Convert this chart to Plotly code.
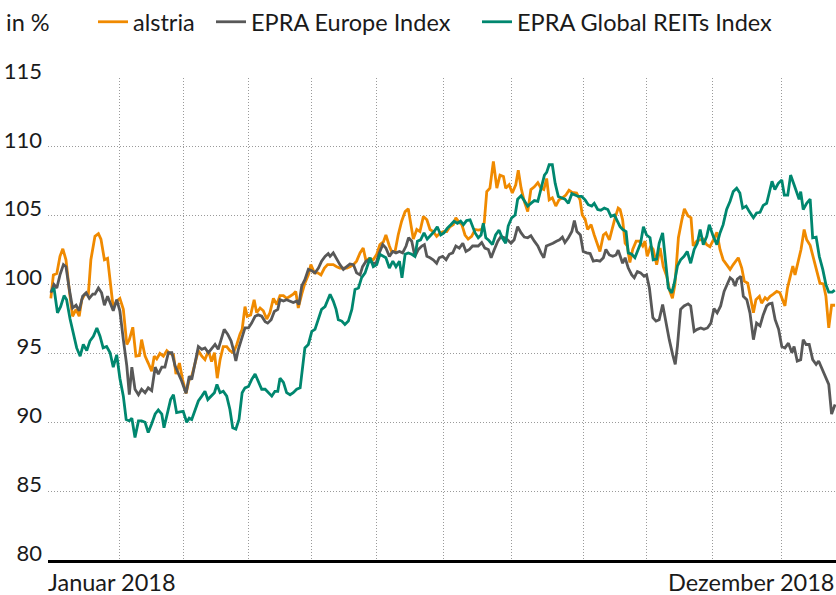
import plotly.graph_objects as go

# Trading-day index (0 = start of January 2018, 250 = end of December 2018)
alstria_day = [0.9,1.7,2.8,3.8,4.7,5.7,6.8,7.8,8.9,9.9,10.7,11.7,12.8,13.6,14.9,16.0,16.8,17.9,18.9,20.0,20.7,21.8,22.8,23.9,25.0,25.8,26.9,27.9,29.0,29.7,30.8,31.8,32.9,33.7,34.5,35.5,36.6,37.7,38.7,39.8,40.6,41.7,42.7,43.8,44.8,
               45.6,46.6,47.7,48.8,49.8,50.9,51.9,52.8,53.7,54.6,55.6,56.7,57.7,58.8,59.9,60.9,61.6,62.5,63.2,64.3,65.4,66.2,67.3,68.3,69.4,70.4,71.5,72.6,73.6,74.7,75.7,76.8,77.8,78.6,79.4,80.5,81.5,82.6,83.4,84.5,85.6,86.6,87.7,88.7,
               89.5,90.5,91.6,92.6,93.7,94.8,95.8,96.9,97.9,99.0,100.0,100.9,101.9,103.2,104.3,105.3,106.4,107.2,108.3,109.0,110.1,111.1,112.2,113.3,114.3,115.1,115.9,117.0,118.0,119.1,120.2,121.2,122.2,123.3,124.4,125.4,126.5,127.5,128.6,129.4,130.2,131.3,132.3,133.3,134.4,
               135.5,136.5,137.6,138.4,139.2,140.2,141.3,142.4,143.4,144.5,145.2,146.3,147.3,148.4,149.2,150.1,151.1,152.2,153.2,154.3,155.4,156.4,157.3,158.2,159.0,160.0,161.1,162.1,163.2,164.3,165.3,166.3,167.7,168.8,169.5,170.4,171.2,172.3,173.3,174.4,175.1,176.2,177.0,178.1,179.0,179.9,180.9,
               181.5,182.3,183.1,183.8,184.6,185.5,186.6,187.6,188.7,189.4,190.1,191.2,192.0,193.1,194.2,195.2,196.3,197.3,198.1,198.9,200.0,201.1,201.9,203.0,204.0,204.7,205.8,206.9,207.9,209.0,210.0,211.1,212.2,213.2,214.2,215.3,
               216.4,217.4,218.3,219.0,220.1,220.9,222.0,222.9,223.8,224.6,225.7,226.4,227.5,228.2,229.1,230.1,231.2,232.2,233.1,233.8,234.6,235.4,236.3,237.0,238.0,238.9,239.9,240.7,241.8,242.8,243.9,244.9,246.0,246.8,247.7,248.6,249.7]
alstria = [99.0,100.7,100.8,102.05,102.6,101.8,99.5,97.7,98.2,97.7,98.9,99.3,99.3,101.8,103.5,103.7,103.3,101.8,101.9,99.9,98.3,98.8,99.0,98.2,95.65,96.0,96.9,94.8,94.85,96.0,94.8,94.3,93.7,94.8,94.6,95.0,94.8,95.2,95.0,94.9,93.5,94.3,93.1,92.1,93.1,
           93.35,94.3,95.2,94.8,94.55,95.2,94.4,95.05,93.2,94.55,95.5,95.5,95.2,95.05,95.65,96.4,96.75,98.4,97.7,97.8,98.9,97.95,98.3,98.1,97.5,97.95,99.0,98.55,99.2,99.2,99.0,99.15,99.3,99.5,98.3,99.3,100.1,100.7,101.45,100.85,100.85,100.7,101.2,101.45,
           101.45,101.45,101.3,101.2,101.2,101.2,101.3,101.45,101.7,102.3,102.65,101.7,101.9,101.8,102.2,102.9,103.1,103.6,102.8,102.4,102.4,103.6,104.6,105.3,105.5,104.35,103.3,104.0,103.85,104.95,104.7,104.0,103.85,103.5,103.75,103.85,103.85,104.2,104.35,104.85,104.6,104.35,103.6,103.3,103.5,
           104.0,103.95,104.0,104.5,106.75,107.0,108.95,107.0,107.95,107.85,107.0,107.25,106.65,107.25,108.3,107.0,106.05,105.3,106.9,107.1,107.4,107.0,106.9,107.7,106.15,106.3,105.7,106.15,106.3,106.5,106.85,106.7,106.65,106.15,105.05,104.75,104.0,104.35,103.6,102.8,102.4,103.6,103.75,103.25,104.1,104.85,105.55,
           105.45,104.7,103.0,102.8,101.6,102.55,103.15,103.15,102.8,103.15,102.05,102.8,102.55,101.45,102.65,101.3,100.6,99.5,99.0,100.0,103.4,104.7,105.5,105.0,104.85,102.8,103.15,103.25,103.3,102.9,102.75,103.25,103.8,102.55,101.8,101.45,
           101.1,101.45,101.7,101.95,101.2,100.25,100.1,99.15,97.95,98.9,99.15,98.65,99.05,98.9,99.15,99.3,99.5,99.4,98.8,98.45,99.75,100.6,101.35,100.7,101.7,102.55,104.0,103.25,102.85,101.95,100.95,100.1,100.05,99.15,96.85,98.5,98.5]

europe_day = [0.9,1.9,2.8,3.8,4.9,5.7,6.8,7.8,8.9,9.9,11.0,12.1,13.1,14.2,14.9,16.0,17.0,17.9,18.9,20.0,20.7,21.8,22.8,23.9,25.0,25.8,26.6,27.6,28.7,29.7,30.8,31.8,32.9,34.0,35.0,36.1,37.1,38.2,39.3,40.3,41.3,42.4,43.8,44.8,
              45.6,46.6,47.7,48.8,49.8,50.9,51.9,53.0,54.0,54.9,55.9,57.0,58.1,58.9,59.6,60.4,61.5,62.5,63.6,64.6,65.7,66.7,67.8,68.9,69.7,70.8,71.8,72.9,73.6,74.7,75.7,76.8,77.8,78.9,79.6,80.5,81.5,82.6,83.7,84.7,85.8,86.8,87.9,88.9,
              89.5,90.5,91.6,92.6,93.7,94.8,95.8,96.9,97.9,99.0,99.8,100.9,101.9,103.0,104.1,105.1,106.2,107.2,108.3,109.4,110.4,111.5,112.5,113.6,114.4,115.4,116.4,117.5,118.6,119.4,120.2,121.2,122.2,123.3,124.1,125.2,126.3,127.3,128.4,129.4,130.5,131.6,132.6,133.7,134.7,
              135.5,136.5,137.6,138.6,139.7,140.6,141.6,142.7,143.7,144.8,145.8,146.9,147.9,149.0,150.1,151.1,152.2,153.2,154.3,155.4,156.4,157.3,158.1,159.2,160.2,161.3,162.3,163.2,164.0,165.1,166.2,167.0,167.8,168.9,169.8,170.9,172.0,173.0,174.1,175.1,176.2,177.0,178.1,179.2,180.2,180.9,
              181.5,182.3,183.1,184.1,185.2,186.0,187.0,188.0,189.1,189.9,190.8,191.9,192.9,193.9,195.0,196.1,197.1,198.2,199.0,199.7,200.7,201.8,203.1,203.9,205.0,206.0,207.1,208.1,209.2,210.3,211.3,212.3,213.4,214.5,215.5,
              216.4,217.2,218.0,218.7,219.8,220.6,221.7,222.7,223.8,224.8,225.9,226.9,228.0,228.8,229.7,230.7,231.8,232.8,233.8,234.9,236.0,236.7,237.7,238.8,239.6,240.5,241.5,242.6,243.7,244.5,245.6,246.6,247.7,248.6,249.7]
europe = [99.4,100.0,99.75,100.7,101.45,101.3,99.6,98.3,98.5,98.1,99.15,99.4,99.0,99.3,99.3,99.75,99.4,98.5,99.15,98.55,98.1,98.9,98.1,96.0,94.1,92.0,94.0,92.4,92.0,92.4,92.15,92.5,92.3,94.0,93.5,94.0,94.0,95.05,95.05,94.1,93.6,93.0,92.1,93.35,
          93.1,94.3,95.5,95.3,95.4,95.05,95.3,95.65,95.3,96.0,96.75,96.4,95.9,95.2,94.45,95.3,96.1,96.85,96.85,97.2,97.7,97.8,97.7,97.3,97.2,97.45,98.05,98.2,98.9,98.8,98.9,98.8,98.7,98.8,98.55,99.9,100.35,101.1,101.0,100.85,101.2,101.7,102.05,102.25,
          102.05,102.3,101.8,101.45,101.1,101.3,101.5,101.45,100.85,100.7,101.3,101.7,101.8,101.55,101.55,102.3,102.9,102.65,102.05,102.4,102.3,102.4,102.3,102.8,103.4,103.15,102.05,102.55,102.8,102.9,102.05,101.95,101.8,101.55,101.95,102.05,101.8,102.2,102.3,102.8,102.65,103.0,102.4,102.55,102.8,
          102.8,102.8,103.05,102.65,102.55,101.95,102.55,103.15,103.5,103.4,103.25,103.0,103.25,104.2,103.75,103.45,103.4,103.55,103.15,102.8,102.3,101.95,102.8,102.9,103.0,103.15,103.25,103.45,103.05,103.4,103.85,104.65,103.85,103.6,102.4,102.3,102.25,101.7,101.75,101.7,101.95,102.55,102.15,102.05,102.15,102.5,
          102.05,101.55,101.95,101.2,100.7,100.5,100.95,100.85,100.6,100.7,99.75,97.6,97.35,97.45,98.55,97.1,96.0,94.9,94.2,95.55,98.2,98.45,98.6,98.45,96.6,96.75,96.85,96.75,96.85,97.2,98.25,97.95,98.45,99.5,100.0,
          100.5,100.35,99.9,100.4,100.6,99.15,98.9,97.95,96.0,97.2,97.0,97.8,98.45,98.6,98.65,97.45,96.75,95.5,95.4,95.75,95.05,95.5,94.45,94.55,96.0,95.65,95.65,94.55,94.2,94.45,93.85,93.35,92.75,90.6,91.3]

global_day = [1.2,1.9,3.0,4.0,5.1,5.9,7.0,8.0,9.1,10.2,11.2,12.3,13.3,14.4,15.5,16.5,17.5,18.6,19.7,20.7,21.8,22.8,23.9,24.8,25.8,26.6,27.6,28.7,29.7,30.8,31.8,32.9,34.0,35.0,36.1,36.8,37.9,38.9,39.8,40.8,41.9,42.9,44.0,44.8,
              45.6,46.6,47.7,48.8,49.8,50.7,51.7,52.8,53.6,54.6,55.6,56.7,57.7,58.6,59.6,60.6,61.6,62.5,63.6,64.6,65.7,66.7,67.8,68.9,69.9,71.0,72.0,72.9,73.6,74.7,75.7,76.8,77.8,78.9,80.0,80.7,81.5,82.6,83.7,84.7,85.8,86.8,87.9,88.7,
              89.5,90.5,91.4,92.1,93.2,94.2,95.3,96.4,97.4,98.5,99.5,100.6,101.3,102.2,103.2,104.3,105.3,106.4,107.2,108.3,109.4,110.4,111.5,112.3,113.3,114.3,115.4,116.4,117.2,118.2,119.3,120.3,121.4,122.5,123.5,124.6,125.6,126.7,127.8,128.8,129.9,130.9,131.8,132.8,133.9,134.9,
              135.5,136.5,137.4,138.1,138.9,139.9,141.0,142.0,143.1,144.1,145.2,146.0,147.1,148.2,149.0,150.1,151.1,152.2,153.2,154.3,155.4,156.4,157.5,158.2,159.0,160.0,160.9,161.9,163.0,164.0,165.1,166.2,167.2,168.2,169.3,170.4,171.4,172.5,173.3,174.4,175.4,176.5,177.6,178.6,179.7,180.7,
              181.5,182.3,183.4,184.1,185.2,186.2,187.3,188.0,188.9,189.9,191.0,192.0,193.1,193.9,195.0,195.8,196.8,197.9,198.7,199.7,200.7,201.8,202.8,203.9,205.0,206.0,206.9,207.9,209.0,209.8,210.9,212.2,213.2,214.2,215.3,
              216.4,217.4,218.5,219.5,220.4,221.5,222.5,223.8,224.8,225.9,226.9,228.0,228.8,229.7,230.6,231.7,232.8,233.6,234.7,235.6,236.7,237.5,238.3,238.8,239.6,240.7,241.8,242.6,243.7,244.7,245.8,246.8,247.7,248.8,249.6]
global_reits = [99.5,99.75,97.95,98.4,99.2,98.9,97.5,96.4,95.4,94.8,95.65,95.2,95.9,96.25,96.85,96.25,95.4,95.5,95.05,94.0,94.9,93.2,91.9,90.2,90.1,90.3,88.9,90.1,90.1,90.0,89.25,89.9,90.6,90.9,90.6,89.6,90.7,91.65,92.0,90.7,90.75,90.8,90.0,90.3,
                90.2,90.8,91.55,91.9,92.25,91.65,91.9,92.15,92.75,92.15,92.25,91.9,90.95,89.6,89.5,90.2,92.15,92.5,92.6,93.1,93.5,93.0,92.4,92.4,92.15,91.9,92.25,92.25,93.2,92.9,92.15,92.0,92.15,92.4,92.5,94.1,95.4,95.65,96.6,96.75,97.45,98.2,98.4,98.9,
                99.3,98.8,98.2,97.45,97.35,97.1,97.35,98.2,99.65,99.75,100.5,100.85,101.3,101.95,101.3,101.45,102.2,102.05,101.95,101.2,101.7,101.3,101.7,100.5,102.2,102.3,102.2,102.05,103.15,103.25,103.75,103.3,103.55,103.85,104.2,103.6,103.75,104.1,104.35,104.6,104.45,104.6,104.35,104.65,104.7,104.0,
                103.75,103.4,103.6,104.45,103.4,103.2,102.9,103.6,103.95,103.4,103.0,104.25,104.85,105.05,106.2,106.45,106.05,105.7,105.9,106.1,106.05,107.0,107.95,108.15,108.7,108.7,107.35,106.4,106.3,106.2,105.9,106.6,106.5,106.4,106.4,106.15,105.8,105.7,105.9,105.45,105.4,105.55,105.45,104.95,105.05,104.6,
                104.2,104.0,103.85,102.3,102.2,101.95,102.65,103.0,104.2,103.6,103.4,101.8,101.85,103.0,103.75,102.05,99.75,99.4,100.1,101.35,101.8,102.05,102.4,101.55,102.55,103.0,104.0,102.9,103.5,104.35,103.6,102.9,103.75,104.35,105.45,
                106.05,106.75,107.0,106.65,105.55,105.7,105.3,104.85,105.2,105.25,105.75,105.9,106.65,107.5,106.9,107.35,107.6,106.5,106.5,107.95,107.25,106.75,106.2,106.75,105.45,105.9,106.2,103.4,103.45,102.05,101.1,100.0,99.45,99.45,99.6]

month_starts = [0, 22.8, 42.9, 63.5, 83.7, 104.3, 125.4, 147.1, 169.8, 189.9, 210.9, 232.8, 250]
y_ticks = [80, 85, 90, 95, 100, 105, 110, 115]
series_names = ["alstria", "EPRA Europe Index", "EPRA Global REITs Index"]
colors = ["#F08A00", "#585858", "#00876F"]
legend_ids = ["legend", "legend2", "legend3"]
legend_left_px = [93, 211, 477]

FONT = "Lato, 'Open Sans', sans-serif"
TXT = dict(family=FONT, size=23.5, color="#1a1a1a")
TICK = dict(family=FONT, size=22, color="#1a1a1a")

fig = go.Figure()
for name, xs, ys, col, lg in zip(series_names,
                                 [alstria_day, europe_day, global_day],
                                 [alstria, europe, global_reits], colors,
                                 legend_ids):
    fig.add_trace(go.Scatter(x=xs, y=ys, mode="lines", name=name, legend=lg,
                             line=dict(color=col, width=2.8)))

legend_style = {}
for lg, px in zip(legend_ids, legend_left_px):
    legend_style[lg] = dict(orientation="h", xref="container", yref="container",
                            x=px / 836, y=1 - 22 / 595, xanchor="left",
                            yanchor="middle", font=TXT, itemwidth=30,
                            bgcolor="rgba(0,0,0,0)")

fig.update_layout(
    width=836, height=595,
    margin=dict(l=48, r=0, t=78, b=35),
    paper_bgcolor="white", plot_bgcolor="white",
    font=TXT,
    showlegend=True,
    **legend_style,
    xaxis=dict(range=[0, 250], tickvals=month_starts, showticklabels=False,
               ticks="", showgrid=True, gridcolor="#9a9a9a", griddash="1px,2px",
               gridwidth=1, showline=True, linecolor="black", linewidth=3,
               zeroline=False, fixedrange=True),
    yaxis=dict(range=[80, 115], tickvals=y_ticks, ticks="", showgrid=True,
               gridcolor="#9a9a9a", griddash="1px,2px", gridwidth=1,
               showline=False, zeroline=False, tickfont=TICK,
               ticklabelshift=-7, ticklabelstandoff=5, fixedrange=True),
    annotations=[
        dict(text="in %", xref="paper", yref="paper", x=(4 - 48) / 788,
             y=1 + (78 - 22) / 482, xanchor="left", yanchor="middle",
             showarrow=False, font=TXT),
        dict(text="Januar 2018", xref="paper", yref="paper", x=-0.003,
             y=-(582 - 560) / 482, xanchor="left", yanchor="middle",
             showarrow=False, font=TXT),
        dict(text="Dezember 2018", xref="paper", yref="paper", x=1,
             y=-(582 - 560) / 482, xanchor="right", yanchor="middle",
             showarrow=False, font=TXT),
    ],
)

fig.write_html("out.html", config={"displayModeBar": False},
               post_script="document.body.style.margin='0';")
